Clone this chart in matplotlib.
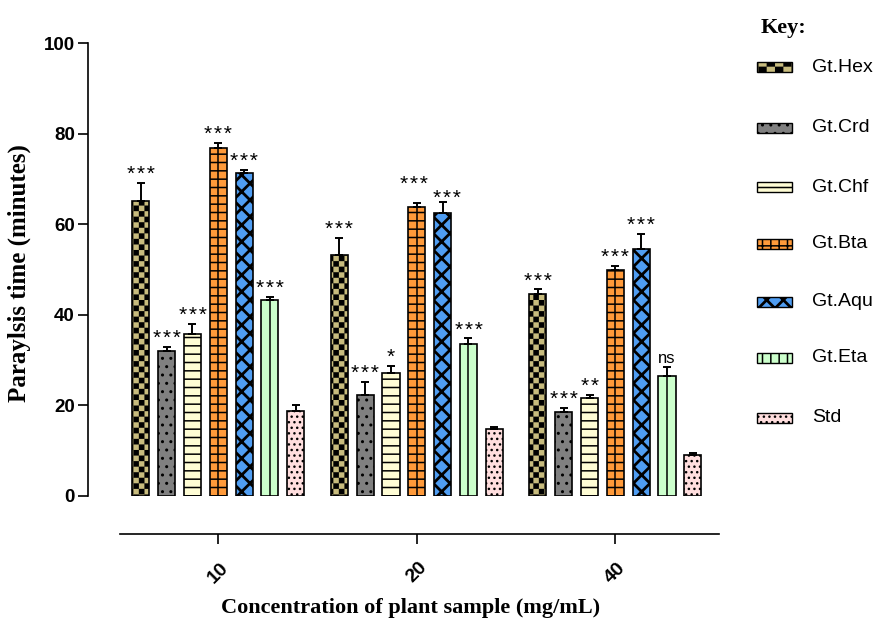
import warnings
import numpy as np
import matplotlib
matplotlib.use("Agg")
import matplotlib.pyplot as plt
import matplotlib.hatch as mhatch
from matplotlib.path import Path
from matplotlib.patches import Rectangle

warnings.filterwarnings("ignore")

# ---- data ----
concentrations = ["10", "20", "40"]
series = ["Gt.Hex", "Gt.Crd", "Gt.Chf", "Gt.Bta", "Gt.Aqu", "Gt.Eta", "Std"]

hex_vals = [65.2, 53.3, 44.5]
crd_vals = [32.0, 22.3, 18.5]
chf_vals = [35.8, 27.2, 21.6]
bta_vals = [76.8, 63.7, 49.9]
aqu_vals = [71.2, 62.4, 54.5]
eta_vals = [43.2, 33.5, 26.6]
std_vals = [18.8, 14.7, 9.1]

hex_err = [4.0, 3.7, 1.1]
crd_err = [0.9, 2.9, 0.9]
chf_err = [2.2, 1.6, 0.8]
bta_err = [1.1, 1.0, 0.9]
aqu_err = [0.8, 2.6, 3.3]
eta_err = [0.7, 1.3, 1.9]
std_err = [1.3, 0.6, 0.5]

hex_sig = ["***", "***", "***"]
crd_sig = ["***", "***", "***"]
chf_sig = ["***", "*", "**"]
bta_sig = ["***", "***", "***"]
aqu_sig = ["***", "***", "***"]
eta_sig = ["***", "***", "ns"]
std_sig = ["", "", ""]


# checkerboard hatch ('c'), Prism style
class CheckerHatch(mhatch.HatchPatternBase):
    def __init__(self, hatch, density):
        self.n = hatch.count("c") * density
        self.num_vertices = 5 * (self.n * self.n // 2)

    def set_vertices_and_codes(self, vertices, codes):
        n = self.n
        s = 1.0 / n
        k = 0
        for i in range(n):
            for j in range(n):
                if (i + j) % 2:
                    continue
                x0, y0 = i * s, j * s
                vertices[k:k + 5] = [(x0, y0), (x0 + s, y0), (x0 + s, y0 + s),
                                     (x0, y0 + s), (x0, y0)]
                codes[k:k + 5] = [Path.MOVETO, Path.LINETO, Path.LINETO,
                                  Path.LINETO, Path.CLOSEPOLY]
                k += 5


mhatch._hatch_types.append(CheckerHatch)

values = [hex_vals, crd_vals, chf_vals, bta_vals, aqu_vals, eta_vals, std_vals]
errors = [hex_err, crd_err, chf_err, bta_err, aqu_err, eta_err, std_err]
sigs = [hex_sig, crd_sig, chf_sig, bta_sig, aqu_sig, eta_sig, std_sig]

colors = ["#C8BC7E", "#808080", "#FFFDD5", "#FF9A3A", "#4F9DF2", "#CCFFCC", "#FFDEDE"]
hatches = ["ccc", "..", "--", "--", "xx", "", "..."]
key_hatches = ["cc", "..", "--", "++", "xx", "||", "..."]
hatch_lw = [0.05, 1.0, 1.1, 1.1, 2.0, 1.1, 1.0]
center_line = [False, False, False, True, False, True, False]

# Prism shifts the crowded labels at 20 mg/mL apart (series index, group, dx, dy)
label_nudge = {(3, 1): (-0.012, 2.2), (4, 1): (0.02, -1.2)}

plt.rcParams["font.family"] = ["Liberation Sans", "DejaVu Sans"]

fig = plt.figure(figsize=(8.77, 6.24), dpi=100)
ax = fig.add_axes([88 / 877, 128 / 624, 634 / 877, 453 / 624])

x = np.arange(len(concentrations))
step = 0.13
width = 0.086

for k in range(len(series)):
    xs = x + (k - 3) * step
    bars = ax.bar(xs, values[k], width, color=colors[k], edgecolor="black",
                  linewidth=1.2, hatch=hatches[k], zorder=2)
    for b in bars:
        if hasattr(b, "set_hatch_linewidth"):
            b.set_hatch_linewidth(hatch_lw[k])
    if center_line[k]:
        ax.vlines(xs, 0, values[k], color="black", linewidth=1.1, zorder=2.5)
    ax.errorbar(xs, values[k], yerr=[np.zeros(len(x)), errors[k]], fmt="none",
                ecolor="black", elinewidth=1.4, capsize=3, capthick=1.4, zorder=3)
    for g, (xi, v, e, s) in enumerate(zip(xs, values[k], errors[k], sigs[k])):
        dx, dy = label_nudge.get((k, g), (0, 0))
        if s == "ns":
            ax.text(xi + dx, v + e + 0.8 + dy, s, ha="center", va="baseline",
                    fontsize=12, zorder=4)
        elif s:
            ax.text(xi + dx, v + e + 0.6 + dy, "\u200a".join(s), ha="center",
                    va="baseline", fontsize=15, zorder=4)

ax.set_ylim(0, 100)
ax.set_xlim(-0.656, 2.537)
ax.set_yticks([0, 20, 40, 60, 80, 100])
ax.set_xticks(x)
ax.set_xticklabels(concentrations)

for sp in ["top", "right"]:
    ax.spines[sp].set_visible(False)
ax.spines["left"].set_linewidth(1.2)
ax.spines["bottom"].set_linewidth(1.2)
ax.spines["bottom"].set_position(("outward", 27.4))
ax.spines["bottom"].set_bounds(-0.495, 2.522)

ax.tick_params(axis="y", length=7, width=1.2, pad=2.5)
ax.tick_params(axis="x", length=7, width=1.2, pad=11, labelrotation=45)
for lab in ax.get_yticklabels() + ax.get_xticklabels():
    lab.set_fontweight("bold")
    lab.set_fontsize(13.5)
for lab in ax.get_xticklabels():
    lab.set_ha("center")
    lab.set_fontsize(14)

ax.set_ylabel("Paraylsis time (minutes)", fontsize=18, fontweight="bold",
              family="Liberation Serif")
ax.yaxis.set_label_coords(-0.109, 0.492)
ax.yaxis.label.set_va("center")
ax.set_xlabel("Concentration of plant sample (mg/mL)", fontsize=16,
              fontweight="bold", family="Liberation Serif")
ax.xaxis.set_label_coords(0.509, -0.247)
ax.xaxis.label.set_va("center")

# key on the right
lax = fig.add_axes([0, 0, 1, 1], facecolor="none")
lax.set_xlim(0, 877)
lax.set_ylim(624, 0)
lax.axis("off")
lax.text(761, 33, "Key:", fontsize=16, fontweight="bold", family="Liberation Serif",
         va="baseline", ha="left")
row_y = [67, 128, 187, 244, 302, 358, 418]
for k, name in enumerate(series):
    r = Rectangle((757, row_y[k] - 5), 35, 10, facecolor=colors[k], edgecolor="black",
                  linewidth=1.0, hatch=key_hatches[k])
    if hasattr(r, "set_hatch_linewidth"):
        r.set_hatch_linewidth(hatch_lw[k])
    lax.add_patch(r)
    lax.text(812, row_y[k], name, fontsize=14, va="center", ha="left")

fig.savefig("out.png", dpi=100)
